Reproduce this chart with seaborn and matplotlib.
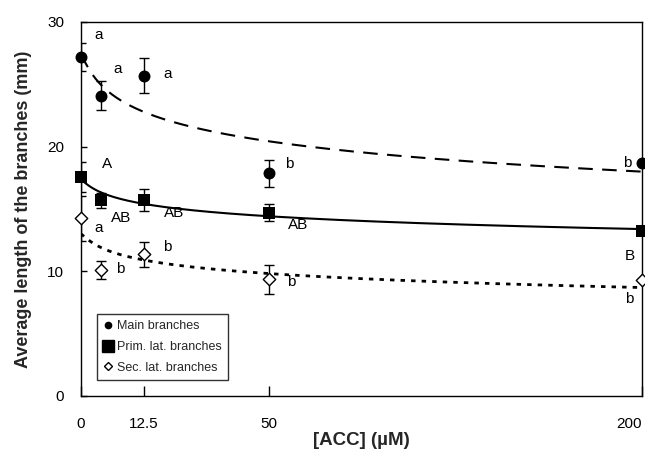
import numpy as np
import pandas as pd
import matplotlib
matplotlib.use("Agg")
import matplotlib.pyplot as plt
from matplotlib.lines import Line2D
import seaborn as sns

# concentrations (µM)
acc = [0, 3, 12.5, 50, 200]

# mean branch lengths (mm) and standard errors
main_len = [27.2, 24.1, 25.7, 17.85, 18.7]
main_err = [1.1, 1.2, 1.4, 1.05, np.nan]
prim_len = [17.6, 15.7, 15.7, 14.7, 13.2]
prim_err = [1.2, 0.6, 0.9, 0.7, np.nan]
sec_len = [14.25, 10.1, 11.35, 9.35, 9.3]
sec_err = [1.8, 0.7, 1.0, 1.15, np.nan]

# significance letters
main_letters = ["a", "a", "a", "b", "b"]
prim_letters = ["A", "AB", "AB", "AB", "B"]
sec_letters = ["a", "b", "b", "b", "b"]

series_names = ["Main branches", "Prim. lat. branches", "Sec. lat. branches"]
xticks = [0, 12.5, 50, 200]
xticklabels = ["0", "12.5", "50", "200"]

sns.set_theme(style="white")
plt.rcParams["font.family"] = ["Liberation Sans", "DejaVu Sans"]

# power scale for x axis
p = 0.787
fwd = lambda x: np.sign(x) * np.abs(x) ** p
inv = lambda x: np.sign(x) * np.abs(x) ** (1 / p)

fig = plt.figure(figsize=(6.45, 4.58), dpi=100)
ax = fig.add_axes([0.125, 0.1354, 0.8696, 0.8166])
ax.set_xscale("function", functions=(fwd, inv))

styles = [
    dict(marker="o", s=74, color="black", edgecolor="black", linewidth=0),
    dict(marker="s", s=64, color="black", edgecolor="black", linewidth=0),
    dict(marker="D", s=40, color="white", edgecolor="black", linewidth=1),
]
line_styles = [(0, (7, 4.5)), "-", (0, (1.6, 2.2))]
line_widths = [1.5, 1.5, 2.0]
offsets = [
    [(18, 22), (16, 27), (24, 2), (20, 9), (-14, 0)],
    [(26, 13), (20, -18), (30, -13), (29, -12), (-12, -25)],
    [(18, -10), (19, 1), (23, 7), (22, -3), (-12, -19)],
]

all_len = [main_len, prim_len, sec_len]
all_err = [main_err, prim_err, sec_err]
all_letters = [main_letters, prim_letters, sec_letters]

grid = np.linspace(0, 200, 400)
for i in range(3):
    y = np.array(all_len[i])
    e = np.array(all_err[i])
    x = np.array(acc)

    # logarithmic trend line fitted to the means
    b, a = np.polyfit(np.log1p(x), y, 1)
    trend = pd.DataFrame({"x": grid, "y": a + b * np.log1p(grid)})
    sns.lineplot(data=trend, x="x", y="y", ax=ax, color="black",
                 linewidth=line_widths[i], linestyle=line_styles[i], zorder=2)

    m = ~np.isnan(e)
    ax.errorbar(x[m], y[m], yerr=e[m], fmt="none", ecolor="black",
                elinewidth=1, capsize=3.6, capthick=1, zorder=3)
    sns.scatterplot(x=x, y=y, ax=ax, zorder=4, clip_on=False, legend=False,
                    **styles[i])

    for xi, yi, lab, off in zip(x, y, all_letters[i], offsets[i]):
        ax.annotate(lab, (xi, yi), xytext=off, textcoords="offset pixels",
                    ha="center", va="center", fontsize=11, color="black")

ax.set_xlim(0, 200)
ax.set_ylim(0, 30)
ax.set_xticks(xticks)
ax.set_xticklabels(xticklabels)
ax.get_xticklabels()[-1].set_horizontalalignment("right")
ax.set_yticks([0, 10, 20, 30])
ax.tick_params(axis="x", direction="in", length=7, width=1, pad=15,
               labelsize=11, colors="black", bottom=True)
ax.tick_params(axis="y", direction="in", length=4, width=1, pad=12,
               labelsize=11, colors="black", left=True)
for s in ax.spines.values():
    s.set_color("black")
    s.set_linewidth(1)

ax.set_xlabel("[ACC] (µM)", fontsize=13.5, fontweight="bold", labelpad=1)
ax.set_ylabel("Average length of the branches (mm)", fontsize=13,
              fontweight="bold", labelpad=11)

handles = [
    Line2D([], [], marker="o", color="black", ls="none", markersize=4.5),
    Line2D([], [], marker="s", color="black", ls="none", markersize=8),
    Line2D([], [], marker="D", markerfacecolor="white", markeredgecolor="black",
           ls="none", markersize=4, markeredgewidth=1),
]
leg = ax.legend(handles, series_names, loc="lower left",
                bbox_to_anchor=(0.029, 0.043), borderaxespad=0, fontsize=9,
                frameon=True, fancybox=False, edgecolor="black",
                labelspacing=0.7, handlelength=0.8, handletextpad=0.3,
                borderpad=0.5)
leg.get_frame().set_linewidth(1)

fig.savefig("out.png", dpi=100)
